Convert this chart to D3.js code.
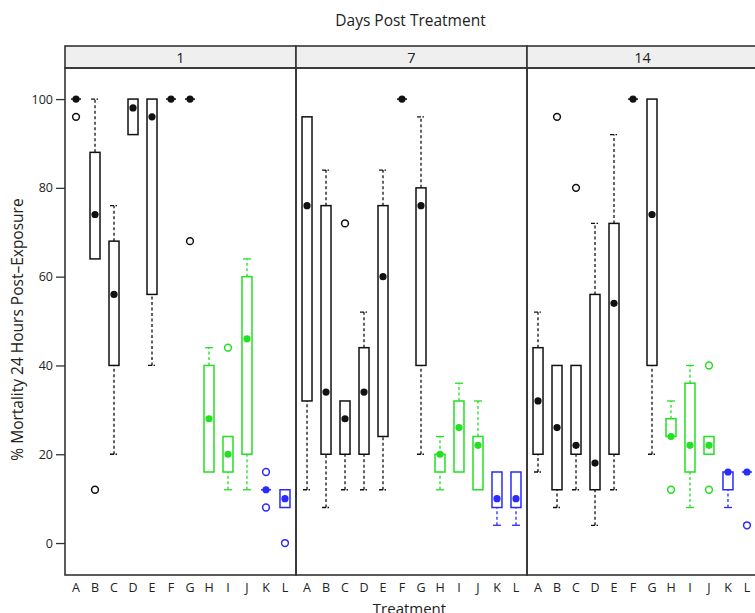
<!DOCTYPE html>
<html lang="en">
<head>
<meta charset="utf-8">
<title>Mortality boxplots</title>
<script src="https://cdnjs.cloudflare.com/ajax/libs/d3/7.8.5/d3.min.js"></script>
<style>
  body { margin: 0; background: #fff; }
  svg text { font-family: "Open Sans", "Noto Sans", sans-serif; fill: #222; }
  .frame { fill: none; stroke: #333; stroke-width: 1.6px; }
  .strip { fill: #efefef; stroke: #333; stroke-width: 1.6px; }
</style>
</head>
<body>
<div id="chart"></div>
<script>
// treatments and facets
var treatments = ["A","B","C","D","E","F","G","H","I","J","K","L"];
var days = ["1", "7", "14"];
var groupColor = ["#111","#111","#111","#111","#111","#111","#111",
                  "#22e022","#22e022","#22e022","#2a2aff","#2a2aff"];

// box stats per treatment: [lower whisker, q1, median, q3, upper whisker]
var day1Stats = [
  [100,100,100,100,100], [64,64,74,88,100], [20,40,56,68,76], [92,92,98,100,100],
  [40,56,96,100,100], [100,100,100,100,100], [100,100,100,100,100], [16,16,28,40,44],
  [12,16,20,24,24], [12,20,46,60,64], [12,12,12,12,12], [8,8,10,12,12]
];
var day7Stats = [
  [12,32,76,96,96], [8,20,34,76,84], [12,20,28,32,32], [12,20,34,44,52],
  [12,24,60,76,84], [100,100,100,100,100], [20,40,76,80,96], [12,16,20,20,24],
  [16,16,26,32,36], [12,12,22,24,32], [4,8,10,16,16], [4,8,10,16,16]
];
var day14Stats = [
  [16,20,32,44,52], [8,12,26,40,40], [12,20,22,40,40], [4,12,18,56,72],
  [12,20,54,72,92], [100,100,100,100,100], [20,40,74,100,100], [24,24,24,28,32],
  [8,16,22,36,40], [20,20,22,24,24], [8,12,16,16,16], [16,16,16,16,16]
];
// outliers per treatment
var day1Out = [[96],[12],[],[],[],[],[68],[],[44],[],[16,8],[0]];
var day7Out = [[],[],[72],[],[],[],[],[],[],[],[],[]];
var day14Out = [[],[96],[80],[],[],[],[],[12],[],[40,12],[],[4]];

var allStats = [day1Stats, day7Stats, day14Stats];
var allOut = [day1Out, day7Out, day14Out];
var yTicks = [0, 20, 40, 60, 80, 100];

var W = 755, H = 613;
var mLeft = 65, panelW = 231, plotTop = 68, plotBottom = 575, stripH = 22;

var svg = d3.select("#chart").append("svg")
  .attr("width", W).attr("height", H);

var y = d3.scaleLinear().domain([-7.2, 107]).range([plotBottom, plotTop]);
var x = d3.scaleBand().domain(treatments).range([0, panelW]).paddingInner(0).paddingOuter(0.08);
var bw = 10;

svg.append("text")
  .attr("x", mLeft + 3 * panelW / 2 - 1).attr("y", 26)
  .attr("text-anchor", "middle").attr("font-size", 15.5)
  .text("Days Post Treatment");

svg.append("text")
  .attr("transform", "translate(23," + ((plotTop + plotBottom) / 2 + 8) + ") rotate(-90)")
  .attr("text-anchor", "middle").attr("font-size", 15.5)
  .text("% Mortality 24 Hours Post\u2013Exposure");

svg.append("text")
  .attr("x", mLeft + 3 * panelW / 2 - 2).attr("y", 614)
  .attr("text-anchor", "middle").attr("font-size", 15)
  .text("Treatment");

// y axis
var yAxis = svg.append("g")
  .attr("transform", "translate(" + mLeft + ",0)")
  .call(d3.axisLeft(y).tickValues(yTicks).tickSize(9).tickPadding(3));
yAxis.select(".domain").remove();
yAxis.selectAll("line").attr("stroke", "#333").attr("stroke-width", 1.3);
yAxis.selectAll("text").attr("font-size", 12.5).attr("font-family", "Open Sans, sans-serif").attr("fill", "#222");

days.forEach(function(day, di) {
  var g = svg.append("g").attr("transform", "translate(" + (mLeft + di * panelW) + ",0)");

  g.append("rect").attr("class", "strip")
    .attr("x", 0).attr("y", plotTop - stripH).attr("width", panelW).attr("height", stripH);
  g.append("text")
    .attr("x", panelW / 2).attr("y", plotTop - 5)
    .attr("text-anchor", "middle").attr("font-size", 14.5)
    .text(day);

  g.append("rect").attr("class", "frame")
    .attr("x", 0).attr("y", plotTop).attr("width", panelW).attr("height", plotBottom - plotTop);

  // x labels
  var xa = g.append("g").attr("transform", "translate(0," + plotBottom + ")")
    .call(d3.axisBottom(x).tickSize(0).tickPadding(8));
  xa.select(".domain").remove();
  xa.selectAll("text").attr("font-size", 12.5).attr("font-family", "Open Sans, sans-serif").attr("fill", "#222");

  var stats = allStats[di], outs = allOut[di];
  treatments.forEach(function(t, i) {
    var s = stats[i], col = groupColor[i];
    var cx = x(t) + x.bandwidth() / 2;
    var b = g.append("g");
    // whiskers
    [[s[0], s[1]], [s[3], s[4]]].forEach(function(w) {
      if (w[0] === w[1]) return;
      b.append("line")
        .attr("x1", cx).attr("x2", cx).attr("y1", y(w[0])).attr("y2", y(w[1]))
        .attr("stroke", col).attr("stroke-width", 1.3).attr("stroke-dasharray", "3,2.5");
      var capV = w[0] < s[1] ? w[0] : w[1];
      b.append("line")
        .attr("x1", cx - 4).attr("x2", cx + 4).attr("y1", y(capV)).attr("y2", y(capV))
        .attr("stroke", col).attr("stroke-width", 1.3)
        .attr("stroke-dasharray", i < 7 ? "4,1.5,1.5,1" : null);
    });
    // box (a flat box is drawn as a short line)
    if (s[1] === s[3]) {
      b.append("line")
        .attr("x1", cx - bw / 2).attr("x2", cx + bw / 2)
        .attr("y1", y(s[1])).attr("y2", y(s[1]))
        .attr("stroke", col).attr("stroke-width", 1.5);
    } else {
      b.append("rect")
        .attr("x", cx - bw / 2).attr("width", bw)
        .attr("y", y(s[3])).attr("height", y(s[1]) - y(s[3]))
        .attr("fill", "none").attr("stroke", col).attr("stroke-width", 1.5);
    }
    // median dot
    b.append("circle")
      .attr("cx", cx).attr("cy", y(s[2])).attr("r", 3.6)
      .attr("fill", col);
    // outliers
    outs[i].forEach(function(o) {
      b.append("circle")
        .attr("cx", cx).attr("cy", y(o)).attr("r", 3.4)
        .attr("fill", "none").attr("stroke", col).attr("stroke-width", 1.5);
    });
  });
});
</script>
</body>
</html>
